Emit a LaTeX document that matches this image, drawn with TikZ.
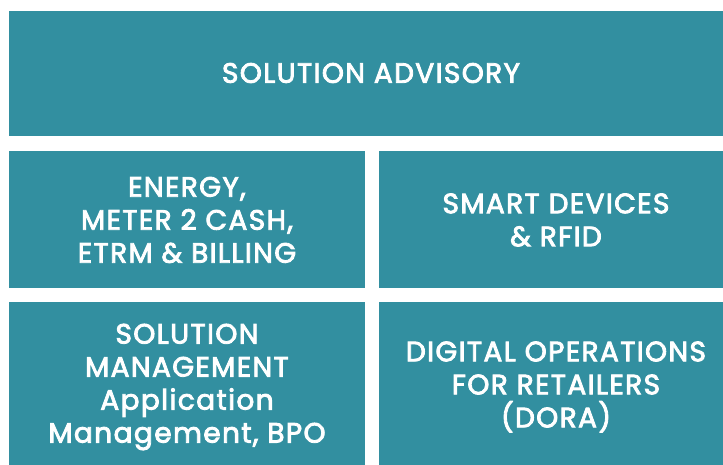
\documentclass[tikz,border=0pt]{standalone}
\usepackage{fontspec}
\setmainfont{Poppins}
\newfontfamily\panelfont{Poppins}[FakeBold=3,LetterSpace=5]
\definecolor{tealbox}{RGB}{50,143,160}
\tikzset{
  panel/.style={fill=tealbox, draw=none, text=white, align=center,
    font=\fontsize{28}{33}\panelfont},
}
\begin{document}
\begin{tikzpicture}[x=1pt,y=-1pt]
  \useasboundingbox (0,0) rectangle (723,465);
  \fill [tealbox] (9,11) rectangle (723,136);
  \fill [tealbox] (9,151) rectangle (365,288);
  \fill [tealbox] (379,151) rectangle (723,288);
  \fill [tealbox] (9,302) rectangle (365,465);
  \fill [tealbox] (379,302) rectangle (723,465);
  \node [panel] (advisory) at (371,73) {SOLUTION ADVISORY};
  \node [panel] (energy) at (187,220) {ENERGY,\\METER 2 CASH,\\ETRM \& BILLING};
  \node [panel] (devices) at (556,220) {SMART DEVICES\\\& RFID};
  \node [panel] (management) at (187,387) {SOLUTION\\MANAGEMENT\\Application\\Management, BPO};
  \node [panel] (dora) at (556,387) {DIGITAL OPERATIONS\\FOR RETAILERS\\(DORA)};
\end{tikzpicture}
\end{document}
